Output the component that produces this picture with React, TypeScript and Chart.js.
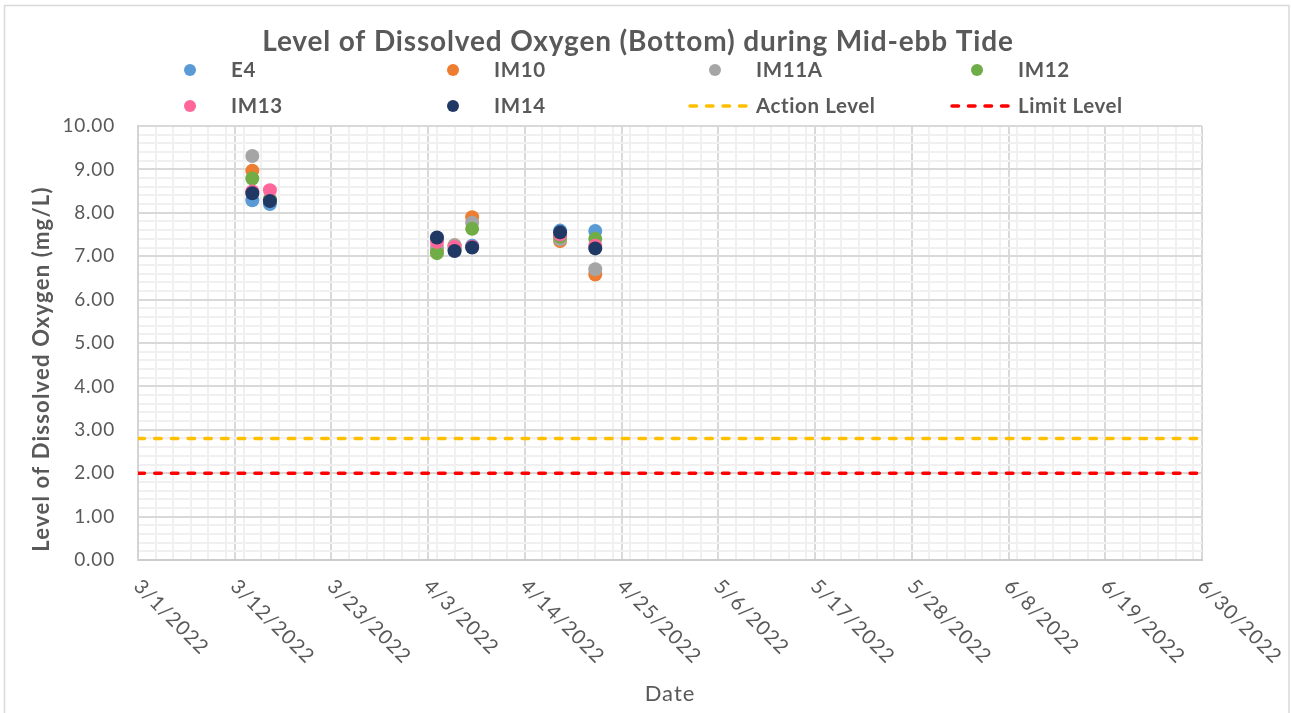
import React, { useEffect, useRef } from 'react';
import { Chart, registerables } from 'chart.js';

Chart.register(...registerables);

// ---- Data ----
const chartTitle = 'Level of Dissolved Oxygen (Bottom) during Mid-ebb Tide';
const xAxisTitle = 'Date';
const yAxisTitle = 'Level of Dissolved Oxygen (mg/L)';
const xStart = '2022-03-01';
const xEnd = '2022-06-30';
const xMajorStepDays = 11;
const xMinorStepDays = 2;
const yMin = 0;
const yMax = 10;
const yMajorStep = 1;
const yMinorStep = 0.2;

const sampleDates = ['2022-03-14', '2022-03-16', '2022-04-04', '2022-04-06', '2022-04-08', '2022-04-18', '2022-04-22'];
const e4Values = [8.29, 8.2, 7.4, 7.15, 7.24, 7.59, 7.58];
const im10Values = [8.97, 8.3, 7.15, 7.25, 7.9, 7.35, 6.58];
const im11aValues = [9.31, 8.3, 7.2, 7.25, 7.77, 7.39, 6.7];
const im12Values = [8.79, 8.3, 7.07, 7.15, 7.63, 7.45, 7.4];
const im13Values = [8.49, 8.52, 7.33, 7.21, 7.22, 7.5, 7.24];
const im14Values = [8.45, 8.27, 7.43, 7.12, 7.2, 7.55, 7.18];
const actionLevel = 2.8;
const limitLevel = 2.0;

const seriesNames = ['E4', 'IM10', 'IM11A', 'IM12', 'IM13', 'IM14'];
const seriesValues = [e4Values, im10Values, im11aValues, im12Values, im13Values, im14Values];
const seriesColors = ['#5B9BD5', '#ED7D31', '#A5A5A5', '#70AD47', '#FF6699', '#203864'];
const levelNames = ['Action Level', 'Limit Level'];
const levelColors = ['#FFC000', '#FF0000'];

const DAY = 86400000;
const dayOffset = (s: string) => (Date.parse(s) - Date.parse(xStart)) / DAY;
const xMax = dayOffset(xEnd);
const fmtDay = (d: number) => {
  const dt = new Date(Date.parse(xStart) + d * DAY);
  return `${dt.getUTCMonth() + 1}/${dt.getUTCDate()}/${dt.getUTCFullYear()}`;
};

const FONT = 'Lato, "Open Sans", sans-serif';
const TEXT = '#595959';

const xTickValues: number[] = [];
for (let d = 0; d <= xMax; d++) {
  if (d % xMinorStepDays === 0 || d % xMajorStepDays === 0) xTickValues.push(d);
}
const yTickValues: number[] = [];
for (let i = 0; i <= Math.round((yMax - yMin) / yMinorStep); i++) {
  yTickValues.push(Math.round((yMin + i * yMinorStep) * 1000) / 1000);
}
const isYMajor = (v: number) => Math.abs(v / yMajorStep - Math.round(v / yMajorStep)) < 1e-6;

function txt(ctx: any, s: string, x: number, y: number, font: string, spacing: number, align: string) {
  ctx.font = font;
  ctx.letterSpacing = `${spacing}px`;
  ctx.textBaseline = 'middle';
  let w = ctx.measureText(s).width;
  let sx = x;
  if (align === 'center') sx = x - w / 2;
  else if (align === 'right') sx = x - w;
  ctx.textAlign = 'left';
  ctx.fillText(s, sx, y);
  ctx.letterSpacing = '0px';
}

const decorPlugin = {
  id: 'decor',
  beforeDraw(chart: any) {
    const ctx = chart.ctx;
    ctx.save();
    ctx.fillStyle = '#ffffff';
    ctx.fillRect(0, 0, chart.width, chart.height);
    ctx.strokeStyle = '#d9d9d9';
    ctx.lineWidth = 1.5;
    ctx.strokeRect(4.5, 5.5, 1284.5, 760);
    ctx.restore();
  },
  afterDraw(chart: any) {
    const ctx = chart.ctx;
    const xs = chart.scales.x;
    const ys = chart.scales.y;
    const area = chart.chartArea;
    ctx.save();
    ctx.fillStyle = TEXT;
    // Title
    txt(ctx, chartTitle, 638, 42, `bold 28px ${FONT}`, 0.85, 'center');

    // Legend
    const colX = [190, 453, 715, 977];
    const rowY = [70, 106];
    const items: any[] = [];
    seriesNames.forEach((n, i) => items.push({ name: n, color: seriesColors[i], type: 'point' }));
    levelNames.forEach((n, i) => items.push({ name: n, color: levelColors[i], type: 'line' }));
    items.forEach((it, i) => {
      const cx = colX[i % 4];
      const cy = rowY[Math.floor(i / 4)];
      if (it.type === 'point') {
        ctx.fillStyle = it.color;
        ctx.beginPath();
        ctx.arc(cx, cy, 6, 0, Math.PI * 2);
        ctx.fill();
      } else {
        ctx.strokeStyle = it.color;
        ctx.lineWidth = 3.5;
        ctx.lineCap = 'round';
        ctx.setLineDash([6.5, 10]);
        ctx.beginPath();
        ctx.moveTo(cx - 25, cy);
        ctx.lineTo(cx + 31, cy);
        ctx.stroke();
        ctx.setLineDash([]);
      }
      ctx.fillStyle = TEXT;
      txt(ctx, it.name, cx + 41, cy, `bold 20.5px ${FONT}`, 0.6, 'left');
    });

    // Y tick labels
    ctx.fillStyle = TEXT;
    yTickValues.forEach((v) => {
      if (!isYMajor(v)) return;
      txt(ctx, v.toFixed(2), 115, ys.getPixelForValue(v), `19px ${FONT}`, 0.8, 'right');
    });

    // Y axis title
    ctx.save();
    ctx.translate(42, 369);
    ctx.rotate(-Math.PI / 2);
    txt(ctx, yAxisTitle, 0, 0, `bold 22px ${FONT}`, 1.2, 'center');
    ctx.restore();

    // Rotated x tick labels
    for (let d = 0; d <= xMax; d += xMajorStepDays) {
      const px = xs.getPixelForValue(d);
      ctx.save();
      ctx.translate(px - 1, area.bottom + 23);
      ctx.rotate(Math.PI / 4);
      txt(ctx, fmtDay(d), 0, 0, `20px ${FONT}`, 1.1, 'left');
      ctx.restore();
    }

    // X axis title
    txt(ctx, xAxisTitle, (area.left + area.right) / 2, 694, `22px ${FONT}`, 1, 'center');
    ctx.restore();
  },
};

export default function App() {
  const ref = useRef<HTMLCanvasElement>(null);
  useEffect(() => {
    document.body.style.margin = '0';
    const canvas = ref.current!;
    const pointSets = seriesNames.map((name, i) => ({
      type: 'scatter' as const,
      label: name,
      data: sampleDates.map((d, j) => ({ x: dayOffset(d), y: seriesValues[i][j] })),
      backgroundColor: seriesColors[i],
      borderColor: seriesColors[i],
      borderWidth: 0,
      pointRadius: 7,
      pointHoverRadius: 7,
      order: 10 - i,
    }));
    const levelSets = [actionLevel, limitLevel].map((lv, i) => ({
      type: 'line' as const,
      label: levelNames[i],
      data: [
        { x: 0, y: lv },
        { x: xMax, y: lv },
      ],
      borderColor: levelColors[i],
      backgroundColor: levelColors[i],
      borderWidth: 3.5,
      borderDash: [6.5, 10.2],
      borderCapStyle: 'round' as const,
      pointRadius: 0,
      fill: false,
      order: 20 + i,
    }));
    const chart = new Chart(canvas, {
      type: 'scatter',
      data: { datasets: [...pointSets, ...levelSets] as any },
      options: {
        animation: false,
        responsive: false,
        layout: { padding: { left: 0, right: 89, top: 126, bottom: 0 } },
        plugins: { legend: { display: false }, title: { display: false }, tooltip: { enabled: false } },
        scales: {
          x: {
            type: 'linear',
            min: 0,
            max: xMax,
            afterBuildTicks: (s: any) => {
              s.ticks = xTickValues.map((v) => ({ value: v }));
            },
            afterFit: (s: any) => {
              s.height = 153;
            },
            ticks: { display: false, autoSkip: false },
            grid: {
              drawTicks: false,
              color: (c: any) => (c.tick && c.tick.value % xMajorStepDays === 0 ? '#d9d9d9' : '#f0f0f0'),
              lineWidth: 2,
            },
            border: { display: true, color: '#cccccc', width: 2 },
          },
          y: {
            type: 'linear',
            min: yMin,
            max: yMax,
            afterBuildTicks: (s: any) => {
              s.ticks = yTickValues.map((v) => ({ value: v }));
            },
            afterFit: (s: any) => {
              s.width = 138;
            },
            ticks: { display: false, autoSkip: false },
            grid: {
              drawTicks: false,
              color: (c: any) => (c.tick && isYMajor(c.tick.value) ? '#d9d9d9' : '#f0f0f0'),
              lineWidth: 2,
            },
            border: { display: true, color: '#d4d4d4', width: 2 },
          },
        },
      },
      plugins: [decorPlugin],
    });
    return () => chart.destroy();
  }, []);
  return <canvas ref={ref} width={1291} height={713} style={{ display: 'block' }} />;
}
